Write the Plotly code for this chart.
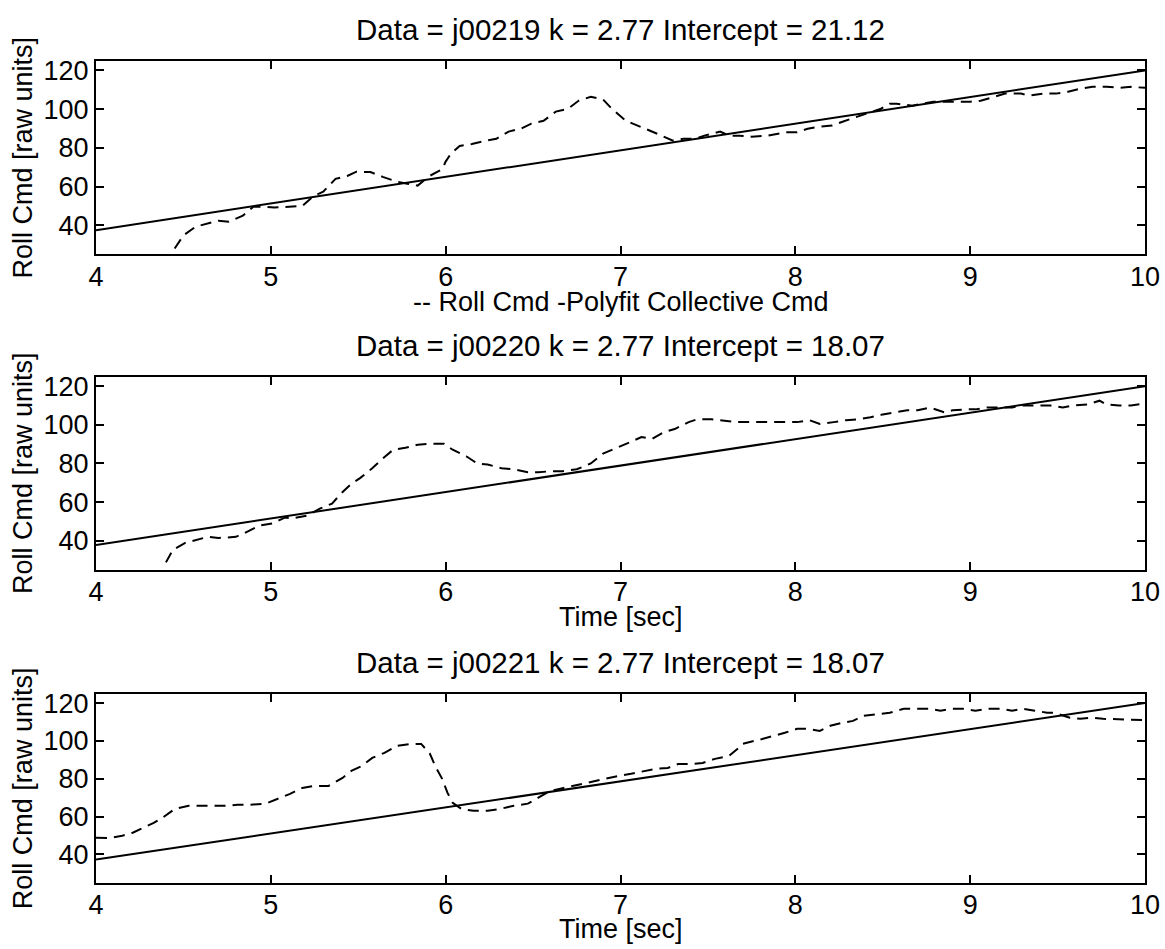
import plotly.graph_objects as go

# ---------------- data ----------------
titles = [
    "Data = j00219 k = 2.77 Intercept = 21.12",
    "Data = j00220 k = 2.77 Intercept = 18.07",
    "Data = j00221 k = 2.77 Intercept = 18.07",
]
xlabels = ["-- Roll Cmd -Polyfit Collective Cmd", "Time [sec]", "Time [sec]"]
ylabel = "Roll Cmd [raw units]"
x_ticks = [4, 5, 6, 7, 8, 9, 10]
y_ticks = [40, 60, 80, 100, 120]

fit_t = [4, 10]
fit_vals_1 = [37.5, 120.0]
fit_vals_2 = [37.8, 120.0]
fit_vals_3 = [37.2, 120.0]

t1 = [4.45, 4.50, 4.57, 4.64, 4.70, 4.76, 4.84, 4.90, 4.97, 5.02, 5.11, 5.18, 5.24, 5.30,
      5.37, 5.44, 5.49, 5.57, 5.64, 5.72, 5.78, 5.84, 5.91, 5.98, 6.00, 6.03, 6.08, 6.15,
      6.23, 6.29, 6.36, 6.43, 6.49, 6.56, 6.63, 6.70, 6.76, 6.83, 6.90, 6.95, 7.03, 7.10,
      7.17, 7.21, 7.30, 7.36, 7.43, 7.48, 7.57, 7.62, 7.68, 7.75, 7.84, 7.90, 7.94, 8.01,
      8.07, 8.14, 8.21, 8.27, 8.35, 8.41, 8.49, 8.54, 8.58, 8.67, 8.73, 8.79, 8.86, 8.93,
      9.00, 9.06, 9.14, 9.20, 9.29, 9.34, 9.42, 9.49, 9.56, 9.63, 9.70, 9.78, 9.85, 9.92, 10.0]
v1 = [28.0, 34.8, 39.3, 40.9, 42.4, 41.9, 45.0, 49.6, 49.6, 49.2, 49.6, 50.0, 54.8, 57.4,
      64.0, 65.6, 67.7, 67.5, 65.0, 62.6, 61.5, 60.5, 65.6, 69.0, 72.9, 77.0, 81.0, 82.0,
      83.7, 84.7, 88.4, 89.9, 92.5, 94.0, 98.7, 100.2, 104.3, 106.4, 105.0, 100.2, 94.0, 91.5,
      89.0, 87.3, 83.7, 84.7, 84.7, 86.3, 88.4, 86.3, 86.3, 85.8, 86.3, 87.3, 88.0, 88.0,
      89.9, 90.9, 91.5, 93.5, 96.0, 97.7, 100.2, 102.8, 102.8, 101.8, 102.8, 103.8, 103.8, 103.8,
      103.8, 104.3, 106.4, 108.0, 108.0, 107.0, 108.0, 108.0, 109.0, 110.5, 111.6, 111.6, 111.0, 111.5, 111.0]

t2 = [4.40, 4.44, 4.51, 4.58, 4.64, 4.70, 4.80, 4.85, 4.94, 5.01, 5.08, 5.12, 5.21, 5.28,
      5.35, 5.40, 5.46, 5.51, 5.58, 5.64, 5.70, 5.77, 5.84, 5.91, 5.99, 6.04, 6.12, 6.18,
      6.24, 6.32, 6.39, 6.47, 6.53, 6.61, 6.67, 6.75, 6.83, 6.90, 7.00, 7.06, 7.12, 7.18,
      7.25, 7.31, 7.39, 7.44, 7.52, 7.58, 7.67, 7.74, 7.81, 7.87, 7.94, 8.01, 8.08, 8.14,
      8.22, 8.29, 8.36, 8.43, 8.50, 8.57, 8.64, 8.70, 8.77, 8.85, 8.90, 8.98, 9.03, 9.10,
      9.17, 9.24, 9.30, 9.38, 9.46, 9.53, 9.59, 9.67, 9.74, 9.78, 9.85, 9.92, 10.0]
v2 = [28.8, 35.3, 38.9, 40.4, 42.0, 41.4, 42.0, 44.0, 48.0, 49.0, 52.0, 51.5, 53.0, 56.6,
      59.2, 64.3, 69.4, 72.4, 77.5, 82.6, 87.1, 88.1, 89.7, 90.2, 90.2, 87.1, 83.6, 80.0,
      79.5, 77.5, 77.0, 75.5, 75.5, 76.0, 76.0, 77.0, 80.0, 85.1, 88.7, 91.2, 93.7, 92.7,
      96.3, 97.8, 101.4, 102.9, 102.9, 102.4, 101.4, 101.4, 101.4, 101.4, 101.4, 101.4, 102.4, 100.4,
      101.4, 102.4, 102.9, 103.9, 105.4, 106.5, 107.5, 107.5, 109.0, 106.5, 107.5, 108.0, 108.0, 109.0,
      109.0, 109.0, 110.0, 110.0, 110.0, 109.0, 110.0, 110.5, 112.5, 110.5, 110.0, 110.0, 111.0]

t3 = [4.00, 4.08, 4.15, 4.21, 4.33, 4.38, 4.45, 4.53, 4.60, 4.66, 4.74, 4.81, 4.88, 4.97,
      5.04, 5.11, 5.18, 5.25, 5.33, 5.41, 5.46, 5.52, 5.58, 5.65, 5.72, 5.80, 5.86, 5.91,
      5.94, 5.98, 6.01, 6.04, 6.09, 6.16, 6.24, 6.31, 6.39, 6.47, 6.53, 6.60, 6.65, 6.73,
      6.79, 6.88, 6.92, 6.99, 7.06, 7.13, 7.20, 7.27, 7.33, 7.40, 7.47, 7.54, 7.62, 7.67,
      7.70, 7.81, 7.88, 7.94, 8.01, 8.07, 8.14, 8.20, 8.27, 8.33, 8.39, 8.47, 8.54, 8.62,
      8.68, 8.76, 8.83, 8.90, 8.96, 9.03, 9.10, 9.17, 9.24, 9.30, 9.37, 9.44, 9.48, 9.57,
      9.63, 9.70, 9.76, 9.85, 9.92, 10.0]
v3 = [48.8, 48.6, 49.8, 51.4, 56.6, 59.3, 64.0, 65.7, 65.7, 65.7, 65.7, 66.2, 66.2, 66.8,
      69.4, 72.0, 75.1, 76.2, 76.2, 80.4, 84.1, 86.7, 91.0, 93.7, 97.4, 98.4, 98.4, 93.2,
      86.7, 79.9, 72.6, 67.3, 64.0, 63.0, 63.0, 64.0, 65.7, 66.8, 70.0, 73.6, 74.6, 76.2,
      77.8, 79.4, 80.0, 81.5, 82.6, 84.1, 85.2, 85.7, 87.8, 87.8, 88.3, 90.5, 92.0, 95.8,
      98.5, 101.0, 102.7, 104.3, 106.4, 106.4, 105.3, 108.0, 109.6, 110.6, 113.3, 114.3, 114.9, 117.0,
      117.0, 117.0, 116.0, 117.0, 117.0, 116.0, 117.0, 117.0, 116.0, 117.0, 116.0, 114.9, 114.9, 112.3,
      111.7, 112.3, 111.7, 111.5, 111.0, 111.0]

series_t = [t1, t2, t3]
series_v = [v1, v2, v3]
fit_vals = [fit_vals_1, fit_vals_2, fit_vals_3]

# ---------------- layout geometry (page pixels) ----------------
W, H = 1165, 949
AX_L, AX_R = 96, 1145        # plot area left / right in page pixels
L = AX_L
R = W - AX_R
panel_px = [(56.0, 250.7), (373.5, 567.7), (692.3, 882.3)]  # (top, bottom) page pixels
xlabel_gap = [48, 48, 47]

def py(p):
    return 1 - p / H

def px(p):
    return (p - AX_L) / (AX_R - AX_L)

FONT = "Liberation Sans, Arial, Helvetica, sans-serif"

fig = go.Figure()
annotations = []
for i in range(3):
    xa = "x" if i == 0 else f"x{i+1}"
    ya = "y" if i == 0 else f"y{i+1}"
    fig.add_trace(go.Scatter(x=fit_t, y=fit_vals[i], mode="lines", xaxis=xa, yaxis=ya,
                             line=dict(color="black", width=2), showlegend=False, hoverinfo="skip"))
    fig.add_trace(go.Scatter(x=series_t[i], y=series_v[i], mode="lines", xaxis=xa, yaxis=ya,
                             line=dict(color="black", width=2, dash="11px,7px"),
                             showlegend=False, hoverinfo="skip"))
    top, bot = panel_px[i]
    ax_common = dict(showline=True, linecolor="black", linewidth=2, mirror="allticks",
                     ticks="inside", ticklen=8, tickwidth=1.5, tickcolor="black",
                     showgrid=False, zeroline=False, ticklabeloverflow="allow",
                     tickfont=dict(size=27, color="black", family=FONT))
    xkey = "xaxis" if i == 0 else f"xaxis{i+1}"
    ykey = "yaxis" if i == 0 else f"yaxis{i+1}"
    fig.update_layout({
        xkey: dict(domain=[0, 1], range=[4, 10], tickvals=x_ticks, anchor=ya,
                   ticklabelstandoff=-3, **ax_common),
        ykey: dict(domain=[py(bot), py(top)], range=[25, 125], tickvals=y_ticks, anchor=xa,
                   ticklabelstandoff=0, **ax_common),
    })
    annotations.append(dict(text=titles[i], x=0.5, y=py(top - 31), xref="paper", yref="paper",
                            xanchor="center", yanchor="middle", showarrow=False,
                            font=dict(size=29.5, color="black", family=FONT)))
    annotations.append(dict(text=xlabels[i], x=0.5, y=py(bot + xlabel_gap[i]), xref="paper", yref="paper",
                            xanchor="center", yanchor="middle", showarrow=False,
                            font=dict(size=27, color="black", family=FONT)))
    annotations.append(dict(text=ylabel, x=px(23), y=py((top + bot) / 2), xref="paper", yref="paper",
                            xanchor="center", yanchor="middle", textangle=-90, showarrow=False,
                            font=dict(size=27, color="black", family=FONT)))

fig.update_layout(width=W, height=H, autosize=False,
                  margin=dict(l=L, r=R, t=0, b=0, pad=0),
                  paper_bgcolor="white", plot_bgcolor="white",
                  font=dict(family=FONT, color="black", size=27),
                  showlegend=False, annotations=annotations)

# remove the page's default body margin so the 1165x949 figure fills the window exactly
page_css = ("document.documentElement.style.overflow='hidden';"
            "document.body.style.margin='0';document.body.style.overflow='hidden';")

fig.write_html("out.html", post_script=page_css, config={"displayModeBar": False})
